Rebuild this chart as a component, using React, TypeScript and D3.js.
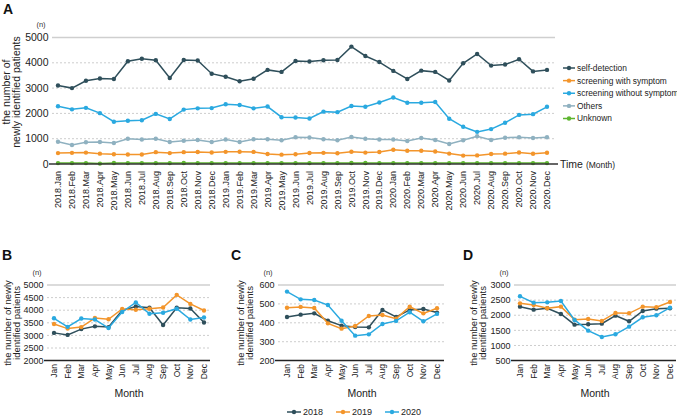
import * as d3 from 'd3';

const months = ['Jan', 'Feb', 'Mar', 'Apr', 'May', 'Jun', 'Jul', 'Aug', 'Sep', 'Oct', 'Nov', 'Dec'];
const years = ['2018', '2019', '2020'];
const timeLabels = years.flatMap((y) => months.map((m) => `${y}.${m}`));

// Panel A: monthly counts by route of detection
const selfDetection = [
  3100, 3000, 3290, 3380, 3360, 4060, 4160, 4100, 3400, 4110, 4090, 3570,
  3450, 3270, 3370, 3720, 3640, 4070, 4050, 4100, 4110, 4640, 4270, 4030,
  3680, 3360, 3690, 3640, 3300, 3980, 4350, 3890, 3930, 4140, 3660, 3720,
];
const withSymptom = [
  430, 440, 450, 410, 385, 378, 376, 468, 431, 468, 473, 454,
  480, 484, 478, 397, 369, 383, 436, 441, 422, 485, 450, 477,
  565, 524, 521, 494, 411, 332, 339, 394, 410, 456, 408, 447,
];
const withoutSymptom = [
  2280, 2160, 2220, 2010, 1670, 1710, 1730, 1980, 1780, 2150, 2200, 2210,
  2360, 2330, 2200, 2270, 1850, 1840, 1800, 2070, 2050, 2290, 2260, 2430,
  2630, 2420, 2420, 2450, 1790, 1470, 1270, 1380, 1630, 1940, 1970, 2260,
];
const others = [
  880, 750, 860, 870, 830, 1000, 970, 1000, 870, 920, 950, 870,
  970, 870, 980, 980, 940, 1060, 1050, 980, 940, 1070, 1000, 970,
  970, 910, 1030, 950, 790, 940, 1100, 950, 1040, 1060, 1030, 1060,
];
const unknown = [
  35, 35, 35, 15, 40, 35, 35, 35, 35, 40, 35, 35,
  35, 35, 35, 35, 35, 35, 35, 35, 35, 40, 40, 35,
  35, 35, 35, 35, 35, 35, 35, 35, 35, 35, 35, 35,
];

const seriesNamesA = ['self-detection', 'screening with symptom', 'screening without symptom', 'Others', 'Unknown'];
const seriesColorsA = ['#2f4f5b', '#f3952b', '#2aa9e0', '#8fb1c0', '#5db52f'];
const seriesA = [selfDetection, withSymptom, withoutSymptom, others, unknown];

// Panels B-D: year-over-year by month
const b2018 = [3100, 3020, 3250, 3360, 3330, 3990, 4150, 4100, 3410, 4100, 4070, 3510];
const b2019 = [3450, 3270, 3330, 3690, 3640, 4050, 4020, 4060, 4110, 4610, 4250, 3990];
const b2020 = [3680, 3340, 3670, 3630, 3290, 3930, 4310, 3860, 3900, 4060, 3630, 3710];

const c2018 = [431, 443, 450, 411, 385, 378, 376, 468, 431, 468, 473, 454];
const c2019 = [480, 484, 478, 397, 369, 383, 436, 441, 422, 485, 450, 477];
const c2020 = [565, 524, 521, 494, 411, 332, 339, 394, 410, 456, 408, 447];

const d2018 = [2284, 2185, 2229, 2042, 1689, 1700, 1722, 1987, 1800, 2141, 2218, 2229];
const d2019 = [2394, 2339, 2229, 2284, 1855, 1877, 1811, 2075, 2064, 2284, 2262, 2438];
const d2020 = [2626, 2416, 2427, 2471, 1844, 1491, 1282, 1370, 1623, 1932, 1998, 2251];

const yearColors = ['#2f4f5b', '#f3952b', '#2aa9e0'];

const ticksA = [0, 1000, 2000, 3000, 4000, 5000];
const ticksB = [2000, 2500, 3000, 3500, 4000, 4500, 5000];
const ticksC = [200, 300, 400, 500, 600];
const ticksD = [500, 1000, 1500, 2000, 2500, 3000];

const FONT = 'Liberation Sans, Arial, sans-serif';

function Series({ values, x, y, labels, color }: any) {
  const line = d3
    .line<number>()
    .x((_, i) => x(labels[i]))
    .y((d) => y(d));
  return (
    <g>
      <path d={line(values) || ''} fill="none" stroke={color} strokeWidth={1.5} />
      {values.map((v: number, i: number) => (
        <circle key={i} cx={x(labels[i])} cy={y(v)} r={2.2} fill={color} />
      ))}
    </g>
  );
}

function Grid({ ticks, y, x0, x1, fs }: any) {
  const top = ticks[ticks.length - 1];
  return (
    <g>
      {ticks.map((t: number, i: number) => (
        <g key={t}>
          {i > 0 && (
            <line
              x1={x0}
              x2={x1}
              y1={y(t)}
              y2={y(t)}
              stroke={t === top ? '#cfcfcf' : '#b8b8b8'}
              strokeWidth={t === top ? 1.5 : 0.7}
              strokeDasharray={t === top ? undefined : '2,2'}
            />
          )}
          <text x={x0 - 3.5} y={y(t)} dy="0.35em" textAnchor="end" fontSize={fs} fill="#222">
            {t}
          </text>
        </g>
      ))}
    </g>
  );
}

function SmallPanel({ letter, lx, x0, x1, first, last, ticks, data, titleX }: any) {
  const x = d3.scalePoint<string>().domain(months).range([first, last]);
  const y = d3.scaleLinear().domain([ticks[0], ticks[ticks.length - 1]]).range([360.6, 285]);
  return (
    <g fontFamily={FONT}>
      <text x={lx} y={260} fontSize={14} fontWeight="bold" fill="#111">
        {letter}
      </text>
      <text x={x0 - 10} y={275} fontSize={7.5} fill="#333" textAnchor="middle">
        (n)
      </text>
      <text
        transform={`translate(${titleX},323) rotate(-90)`}
        textAnchor="middle"
        fontSize={9.5}
        fill="#222"
      >
        <tspan x={0} dy={0}>the number of newly</tspan>
        <tspan x={0} dy={8.5}>identified patients</tspan>
      </text>
      <Grid ticks={ticks} y={y} x0={x0} x1={x1} fs={9} />
      {data.map((vals: number[], i: number) => (
        <Series key={i} values={vals} x={x} y={y} labels={months} color={yearColors[i]} />
      ))}
      <line x1={x0 - 3} x2={x1} y1={y(ticks[0])} y2={y(ticks[0])} stroke="#222" strokeWidth={1.5} />
      {months.map((m) => (
        <text
          key={m}
          transform={`translate(${x(m)},${364}) rotate(-90)`}
          textAnchor="end"
          dy="0.35em"
          fontSize={8.5}
          fill="#222"
        >
          {m}
        </text>
      ))}
      <text x={(first + last) / 2} y={397} textAnchor="middle" fontSize={10.5} fill="#222">
        Month
      </text>
    </g>
  );
}

export default function App() {
  const xA = d3.scalePoint<string>().domain(timeLabels).range([58, 547]);
  const yA = d3.scaleLinear().domain([0, 5000]).range([164, 37.5]);
  const legendY = d3.scalePoint<string>().domain(seriesNamesA).range([68, 118.5]);
  const yearLegendX = d3.scalePoint<string>().domain(years).range([287, 385]);

  return (
    <svg
      width={677}
      height={416}
      viewBox="0 0 677 416"
      style={{ position: 'absolute', left: 0, top: 0, background: '#fff' }}
      fontFamily={FONT}
    >
      <text x={3} y={14} fontSize={14} fontWeight="bold" fill="#111">
        A
      </text>
      <text x={41} y={27} fontSize={7.5} fill="#333" textAnchor="middle">
        (n)
      </text>
      <text transform="translate(10,92) rotate(-90)" textAnchor="middle" fontSize={10.5} fill="#222">
        <tspan x={0} dy={0}>the number of</tspan>
        <tspan x={0} dy={10}>newly identified patients</tspan>
      </text>
      <Grid ticks={ticksA} y={yA} x0={52} x1={555} fs={10.5} />
      {seriesA.map((vals, i) => (
        <Series key={i} values={vals} x={xA} y={yA} labels={timeLabels} color={seriesColorsA[i]} />
      ))}
      <line x1={49} x2={558} y1={yA(0)} y2={yA(0)} stroke="#333" strokeWidth={1.5} />
      <text x={560} y={yA(0)} dy="0.35em" fontSize={10.5} fill="#222">
        Time <tspan fontSize={8.5}>(Month)</tspan>
      </text>
      {timeLabels.map((t) => (
        <text
          key={t}
          transform={`translate(${xA(t)},171) rotate(-90)`}
          textAnchor="end"
          dy="0.35em"
          fontSize={9}
          fill="#222"
        >
          {t}
        </text>
      ))}
      {seriesNamesA.map((n, i) => (
        <g key={n} transform={`translate(563,${legendY(n)})`}>
          <line x1={0} x2={12} y1={0} y2={0} stroke={seriesColorsA[i]} strokeWidth={1.5} />
          <circle cx={6} cy={0} r={2.2} fill={seriesColorsA[i]} />
          <text x={14} y={0} dy="0.35em" fontSize={8.4} fill="#222">
            {n}
          </text>
        </g>
      ))}

      <SmallPanel letter="B" lx={2} x0={47} x1={210} first={54} last={204} ticks={ticksB} data={[b2018, b2019, b2020]} titleX={11} />
      <SmallPanel letter="C" lx={231} x0={278} x1={444} first={287} last={437} ticks={ticksC} data={[c2018, c2019, c2020]} titleX={244} />
      <SmallPanel letter="D" lx={463} x0={514} x1={676} first={520} last={670} ticks={ticksD} data={[d2018, d2019, d2020]} titleX={477} />

      {years.map((yr, i) => (
        <g key={yr} transform={`translate(${yearLegendX(yr)},412)`}>
          <line x1={0} x2={14} y1={0} y2={0} stroke={yearColors[i]} strokeWidth={1.5} />
          <circle cx={7} cy={0} r={2.2} fill={yearColors[i]} />
          <text x={16} y={0} dy="0.35em" fontSize={9} fill="#222">
            {yr}
          </text>
        </g>
      ))}
    </svg>
  );
}
